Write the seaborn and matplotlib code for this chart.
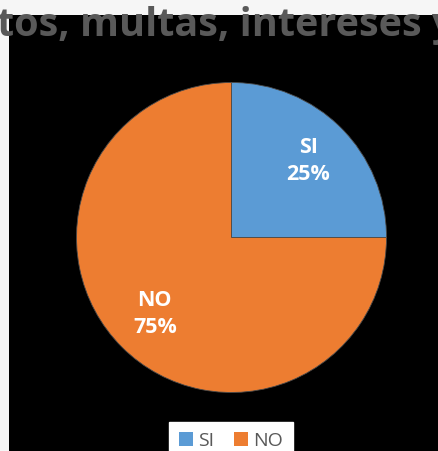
import matplotlib
matplotlib.use("Agg")
import matplotlib.pyplot as plt
import seaborn as sns
import numpy as np

# Data
labels = ["SI", "NO"]
values = [25, 75]
title_text = "tos, multas, intereses y"

sns.set_theme(style="white")
plt.rcParams['font.family'] = ['Open Sans', 'DejaVu Sans']

colors = ["#5B9BD5", "#ED7D31"]

W, H = 439, 451
fig = plt.figure(figsize=(W / 100, H / 100), dpi=100, facecolor="#f6f6f6")

# black plot panel (pixels: x 9..439, y 15..451)
ax = fig.add_axes([9 / W, 0, 430 / W, (H - 15) / H])
ax.set_facecolor("black")

# pie centred at (231.5, 237.5) px with radius 155 px
r = 155.0
cx, cy = 231.5, 237.5

wedges, texts = ax.pie(values, colors=colors, startangle=90, counterclock=False,
                       radius=1.0, center=(0, 0), frame=True,
                       wedgeprops=dict(linewidth=0.6, edgecolor="#4a4a4a"))
ax.set_aspect("auto")
ax.set_xlim((9 - cx) / r, (439 - cx) / r)
ax.set_ylim((cy - 451) / r, (cy - 15) / r)
ax.set_xticks([])
ax.set_yticks([])
for s in ax.spines.values():
    s.set_visible(False)

# data labels
start = 90.0
total = sum(values)
for lab, v in zip(labels, values):
    sweep = 360.0 * v / total
    mid = np.deg2rad(start - sweep / 2)
    start -= sweep
    x, y = 0.70 * np.cos(mid), 0.70 * np.sin(mid)
    ax.text(x, y, f"{lab}\n{v}%", ha="center", va="center", color="white",
            fontsize=15.5, fontweight="bold", linespacing=1.35)

# title (cut off in the reference)
fig.text(-0.006, 1 - 36 / H, title_text, ha="left", va="baseline",
         color="#595959", fontsize=28.5, fontweight="bold")

# legend
leg = fig.legend(wedges, labels, loc="upper center", ncol=2,
                 bbox_to_anchor=(231 / W, 1 - 422 / H), frameon=True,
                 fancybox=False, framealpha=1, facecolor="white",
                 edgecolor="white", fontsize=14, handlelength=0.75,
                 handleheight=0.75, handletextpad=0.25, columnspacing=1.0,
                 borderpad=0.5, borderaxespad=0)
for t in leg.get_texts():
    t.set_color("#595959")
for h in leg.legend_handles:
    h.set_edgecolor("none")

fig.savefig("out.png", dpi=100, facecolor=fig.get_facecolor())
